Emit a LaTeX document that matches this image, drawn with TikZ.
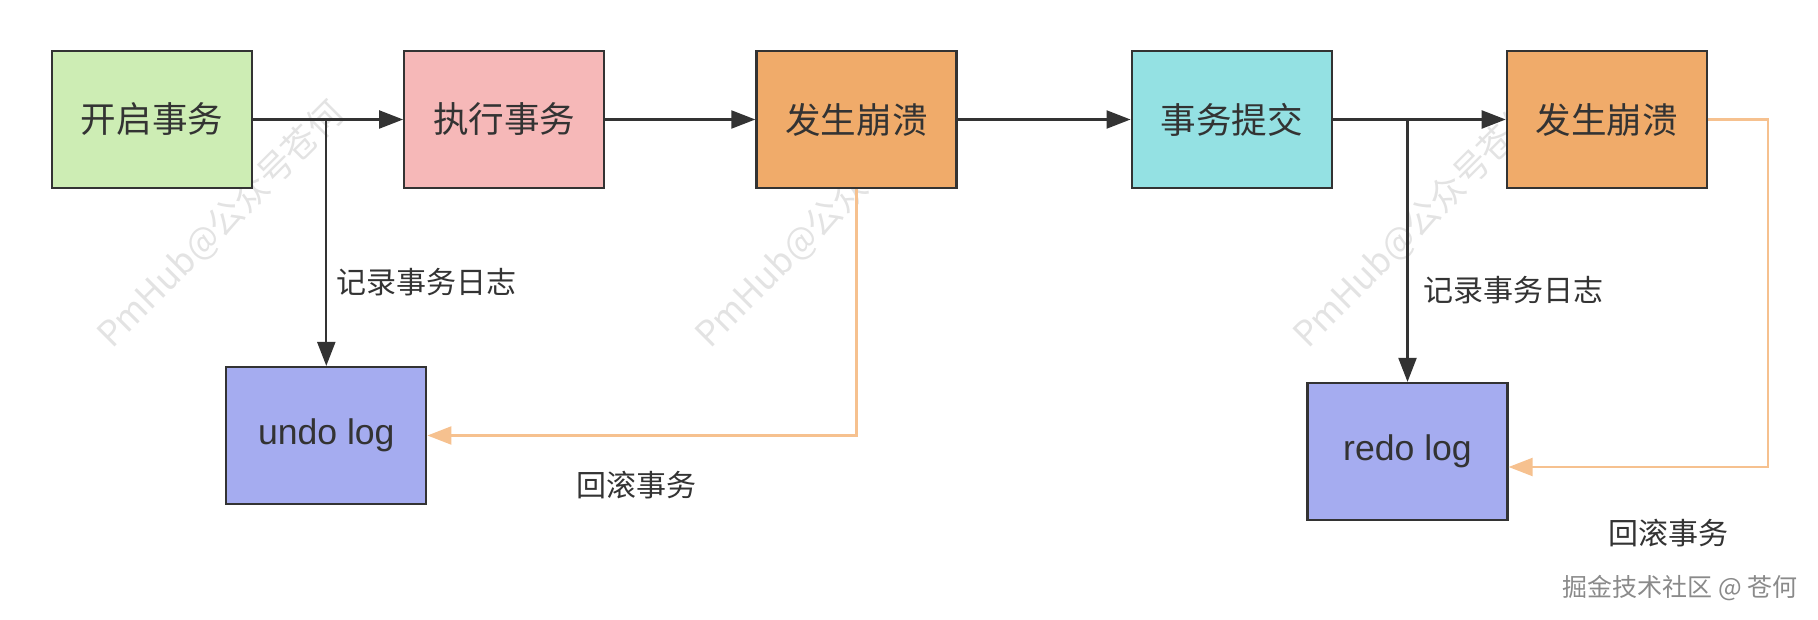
\documentclass[tikz,border=0pt]{standalone}
\usepackage{fontspec}
\setmainfont{Noto Sans CJK SC}
\newfontfamily\logfont{Liberation Sans}
\usetikzlibrary{positioning,arrows.meta}
\definecolor{startgreen}{HTML}{CDEDB4}
\definecolor{execpink}{HTML}{F6B8B8}
\definecolor{crashorange}{HTML}{F0AB6A}
\definecolor{commitcyan}{HTML}{94E1E3}
\definecolor{logblue}{HTML}{A5ACF0}
\definecolor{edgegray}{HTML}{333333}
\definecolor{rollpeach}{HTML}{F6C18F}
\definecolor{markgray}{HTML}{E3E3E3}
\definecolor{sitegray}{HTML}{8A8A8A}
\tikzset{
txbox/.style={
  rectangle, draw=edgegray, line width=1.1pt, text=edgegray,
  minimum width=100pt, minimum height=68.5pt,
  font=\fontsize{17.8}{20}\selectfont
  },
logbox/.style={
  txbox, fill=logblue, font=\logfont\fontsize{17.8}{20}\selectfont
  },
flow/.style={draw=edgegray, line width=1.1pt, ->},
rollback/.style={draw=rollpeach, line width=1.1pt, ->},
edgelabel/.style={
  inner sep=0pt, text=edgegray, font=\fontsize{15}{18}\selectfont
  },
pmmark/.style={
  inner sep=0pt, anchor=base west, rotate=45, text=markgray,
  font=\fontsize{17.5}{20}\selectfont
  }
}

\begin{document}
\begin{tikzpicture}[x=0.5pt, y=-0.5pt, >={Triangle[length=12pt,width=9pt]}]
\useasboundingbox (0,0) rectangle (1818,620);

% watermark
\node[pmmark] (mark1) at (112,350) {PmHub@公众号苍何};
\node[pmmark] (mark2) at (710,350) {PmHub@公众号苍何};
\node[pmmark] (mark3) at (1308,350) {PmHub@公众号苍何};

% main flow
\node[txbox, fill=startgreen] (tx-start) at (152,119.5) {开启事务};
\node[txbox, fill=execpink, right=75pt of tx-start] (tx-exec) {执行事务};
\node[txbox, fill=crashorange, right=75pt of tx-exec] (tx-crash1) {发生崩溃};
\node[txbox, fill=commitcyan, right=86.5pt of tx-crash1] (tx-commit) {事务提交};
\node[txbox, fill=crashorange, right=86.5pt of tx-commit] (tx-crash2) {发生崩溃};

% logs
\node[logbox] (undo) at (326.3,435.5) {undo log};
\node[logbox] (redo) at (1407.5,451.5) {redo log};

\coordinate (undo-split) at (undo |- tx-start);
\coordinate (redo-split) at (redo |- tx-commit);

\draw[flow] (tx-start) -- (tx-exec);
\draw[flow] (undo-split) -- (undo);
\draw[flow] (tx-exec) -- (tx-crash1);
\draw[flow] (tx-crash1) -- (tx-commit);
\draw[flow] (tx-commit) -- (tx-crash2);
\draw[flow] (redo-split) -- (redo);

% rollback
\coordinate (crash2-out) at ([xshift=30pt]tx-crash2.east);
\coordinate (redo-in) at ([yshift=-7.75pt]redo.east);
\draw[rollback] (tx-crash1.south) |- (undo.east);
\draw[rollback] (tx-crash2.east) -- (crash2-out) |- (redo-in);

% labels
\node[edgelabel, anchor=west] (log-note1) at (336,282) {记录事务日志};
\node[edgelabel, anchor=west] (log-note2) at (1423,290) {记录事务日志};
\node[edgelabel] (roll-note1) at (636,485) {回滚事务};
\node[edgelabel] (roll-note2) at (1668,533) {回滚事务};
\node[inner sep=0pt, text=sitegray, font=\fontsize{12.5}{15}\selectfont]
  (site-mark) at (1680,588) {掘金技术社区 @ 苍何};

\end{tikzpicture}
\end{document}
